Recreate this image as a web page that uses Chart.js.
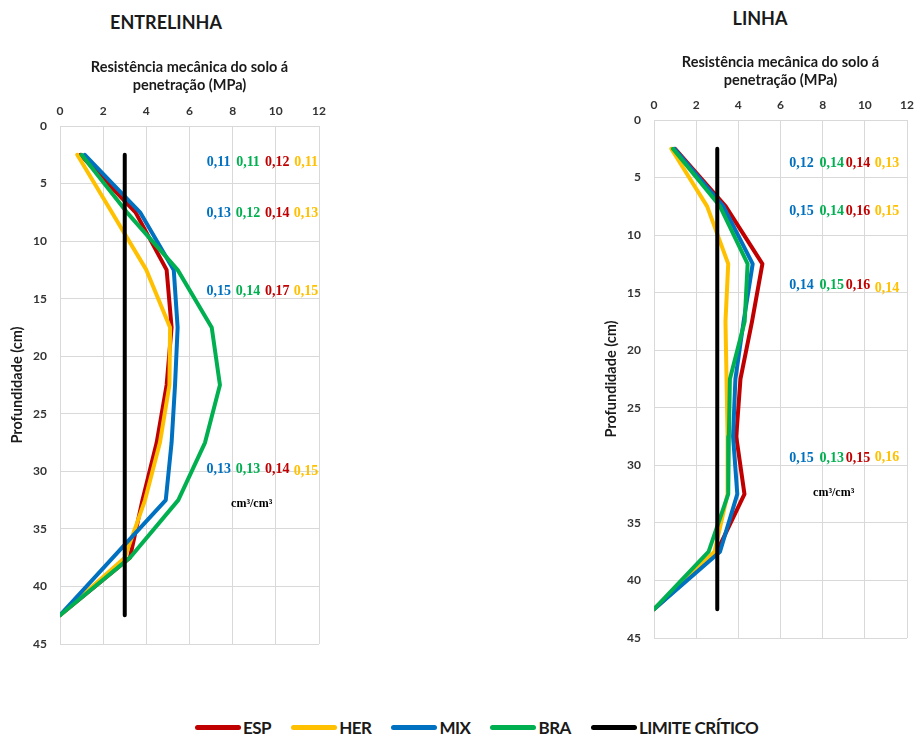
<!DOCTYPE html>
<html><head><meta charset="utf-8">
<script src="https://cdn.jsdelivr.net/npm/chart.js@4"></script>
<style>
body{margin:0;background:#fff;width:922px;height:738px;position:relative;overflow:hidden;font-family:Lato,sans-serif}
.ttl{position:absolute;font:bold 18px Lato,sans-serif;color:#1a1a1a;transform:translate(-50%,-50%);white-space:nowrap}
canvas{position:absolute;top:0}
#legend{position:absolute;left:195px;top:716px;height:22px;display:flex;align-items:center;font:bold 17px Lato,sans-serif;letter-spacing:-0.5px;color:#1a1a1a;white-space:nowrap}
.li{display:flex;align-items:center;margin-right:20px}
.sw{width:46px;height:5px;border-radius:3px;margin-right:2px}
</style></head>
<body>
<div class="ttl" style="left:166px;top:22px">ENTRELINHA</div>
<div class="ttl" style="left:760px;top:18px">LINHA</div>
<canvas id="c1" width="340" height="700" style="left:0;width:340px;height:700px"></canvas>
<canvas id="c2" width="332" height="700" style="left:590px;width:332px;height:700px"></canvas>
<div id="legend"></div>
<script>
// ---- data ----
const seriesNames = ["ESP", "HER", "MIX", "BRA", "LIMITE CRÍTICO"];
const seriesColors = ["#C00000", "#FFC000", "#0070C0", "#00B050", "#000000"];
const depths = [2.5, 7.5, 12.5, 17.5, 22.5, 27.5, 32.5, 37.5, 42.5];
// ENTRELINHA (MPa)
const entEsp = [0.95, 3.5, 4.94, 5.17, 4.94, 4.48, 3.82, 3.24, 0];
const entHer = [0.8, 2.4, 4.0, 5.1, 5.07, 4.63, 3.94, 3.0, 0];
const entMix = [1.15, 3.71, 5.27, 5.45, 5.33, 5.17, 4.9, 2.45, 0];
const entBra = [1.0, 3.1, 5.45, 7.03, 7.41, 6.72, 5.48, 3.24, 0];
// LINHA (MPa)
const linEsp = [1.0, 3.4, 5.14, 4.65, 4.1, 3.9, 4.29, 2.98, 0];
const linHer = [0.82, 2.52, 3.52, 3.39, 3.44, 3.49, 3.49, 2.87, 0];
const linMix = [0.97, 3.29, 4.68, 4.25, 3.86, 3.75, 3.95, 3.13, 0];
const linBra = [0.9, 3.13, 4.44, 4.3, 3.6, 3.55, 3.52, 2.59, 0];
// limite crítico
const limiteValue = [3, 3];
const limiteDepth = [2.5, 42.5];
// soil moisture labels (cm3/cm3), order MIX, BRA, ESP, HER
const entUmid = [["0,11","0,11","0,12","0,11"],["0,13","0,12","0,14","0,13"],["0,15","0,14","0,17","0,15"],["0,13","0,13","0,14","0,15"]];
const linUmid = [["0,12","0,14","0,14","0,13"],["0,15","0,14","0,16","0,15"],["0,14","0,15","0,16","0,14"],["0,15","0,13","0,15","0,16"]];
const umidUnit = "cm³/cm³";
const xTitle = ["Resistência mecânica do solo á", "penetração (MPa)"];
const yTitle = "Profundidade (cm)";

// ---- legend ----
const lg = document.getElementById('legend');
seriesNames.forEach((n, i) => {
  const d = document.createElement('div'); d.className = 'li';
  const s = document.createElement('span'); s.className = 'sw'; s.style.background = seriesColors[i];
  const t = document.createElement('span'); t.textContent = n;
  d.appendChild(s); d.appendChild(t); lg.appendChild(d);
});

const pts = (xs, ys) => xs.map((v, i) => ({x: v, y: ys[i]}));
const labelColors = [seriesColors[2], seriesColors[3], seriesColors[0], seriesColors[1]];

const annot = {
  id: 'annot',
  afterDatasetsDraw(chart, args, o) {
    const {ctx, scales: {x, y}} = chart;
    ctx.save();
    ctx.font = 'bold 14px "Liberation Serif", serif';
    ctx.textAlign = 'center'; ctx.textBaseline = 'middle';
    o.rows.forEach((row, i) => row.forEach((t, j) => {
      ctx.fillStyle = labelColors[j];
      const dy = (o.dy && o.dy[i] && o.dy[i][j]) || 0;
      ctx.fillText(t, x.getPixelForValue(o.xs[j]), y.getPixelForValue(o.ys[i]) + dy);
    }));
    ctx.fillStyle = '#000';
    ctx.font = 'bold 12px "Liberation Serif", serif';
    ctx.fillText(umidUnit, x.getPixelForValue(o.unit[0]), y.getPixelForValue(o.unit[1]));
    ctx.restore();
  }
};

function make(id, data, g) {
  const tickFont = {family: 'Lato', weight: 'bold', size: 12};
  const ds = data.map((arr, i) => ({
    label: seriesNames[i],
    data: i < 4 ? pts(arr, depths) : pts(limiteValue, limiteDepth),
    borderColor: seriesColors[i], backgroundColor: seriesColors[i],
    borderWidth: 4, pointRadius: 0, showLine: true, tension: 0,
    borderCapStyle: 'round', borderJoinStyle: 'round',
    order: [4, 3, 2, 1, 0][i]
  }));
  return new Chart(document.getElementById(id), {
    type: 'scatter',
    data: {datasets: ds},
    plugins: [annot],
    options: {
      responsive: false, animation: false,
      layout: {padding: g.pad},
      plugins: {legend: {display: false}, tooltip: {enabled: false}, annot: g.annot},
      scales: {
        x: {type: 'linear', position: 'top', min: 0, max: 12,
          ticks: {stepSize: 2, font: tickFont, color: '#333', padding: 8},
          grid: {color: '#d9d9d9', drawTicks: false}, border: {display: false},
          title: {display: true, text: xTitle, font: {family: 'Lato', weight: 'bold', size: 14.5, lineHeight: 1.25}, color: '#1a1a1a', padding: {top: g.xtp, bottom: 0}},
          afterFit(s) { s.height = 80; }},
        y: {type: 'linear', reverse: true, min: 0, max: 45,
          ticks: {stepSize: 5, font: tickFont, color: '#333', padding: 13},
          grid: {color: '#d9d9d9', drawTicks: false}, border: {display: false},
          title: {display: true, text: yTitle, font: {family: 'Lato', weight: 'bold', size: 14.5}, color: '#1a1a1a', padding: {top: g.ytp, bottom: 0}},
          afterFit(s) { s.width = g.yw; }}
      }
    }
  });
}

make('c1', [entEsp, entHer, entMix, entBra, limiteValue], {
  pad: {left: 0, right: 21, top: 46, bottom: 56}, yw: 60, xtp: 12, ytp: 9,
  annot: {rows: entUmid, xs: [7.35, 8.71, 10.06, 11.4], ys: [3.2, 7.55, 14.4, 29.85], unit: [8.88, 32.8],
    dy: [null, null, null, [0, 0, 0, 1.5]]}
});
make('c2', [linEsp, linHer, linMix, linBra, limiteValue], {
  pad: {left: 0, right: 9, top: 40, bottom: 62}, yw: 64, xtp: 13, ytp: 13,
  annot: {rows: linUmid, xs: [6.99, 8.43, 9.68, 11.05], ys: [3.77, 7.97, 14.35, 29.4], unit: [8.52, 32.4],
    dy: [null, null, [0, 0, 0, 3], [0, 0, 0, -1]]}
});
</script>
</body></html>
